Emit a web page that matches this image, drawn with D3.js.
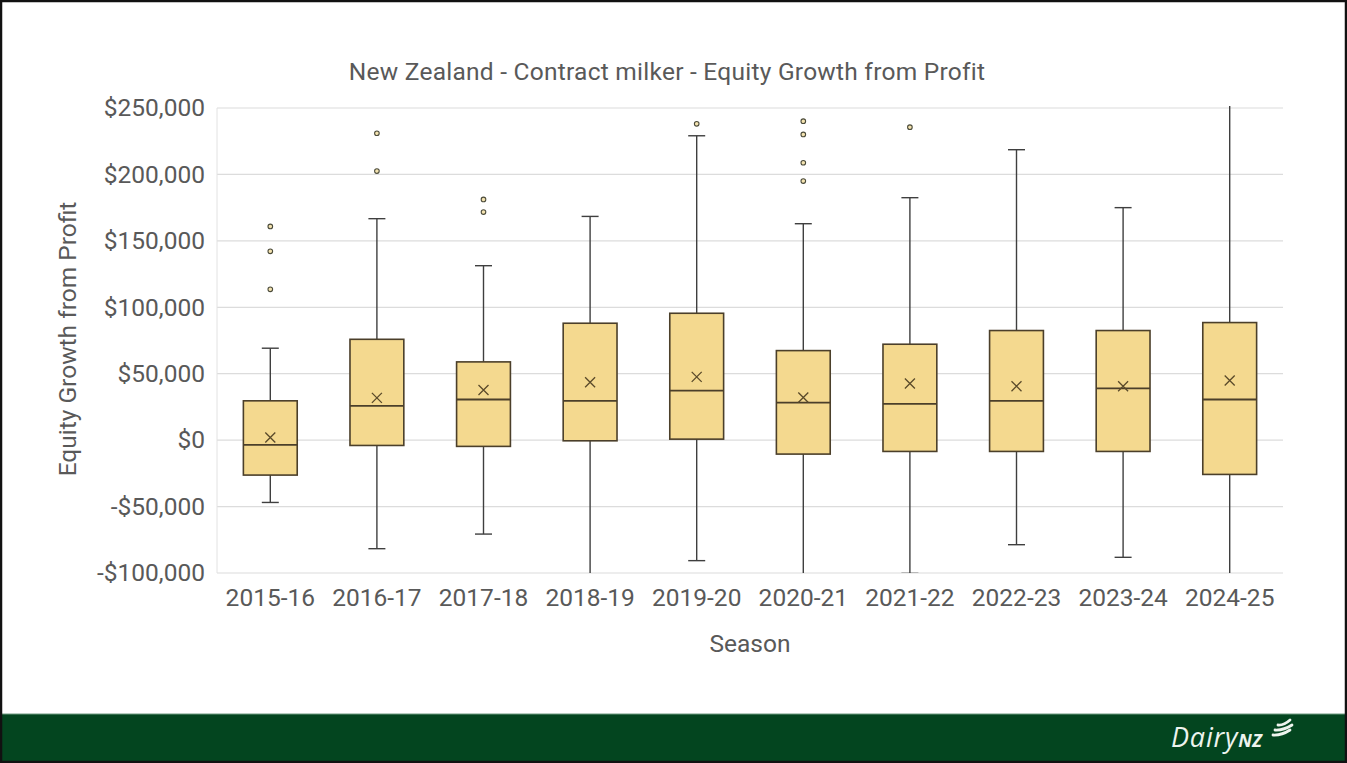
<!DOCTYPE html>
<html>
<head>
<meta charset="utf-8">
<script src="https://cdn.jsdelivr.net/npm/d3@7"></script>
<style>
  html, body { margin: 0; padding: 0; background: #fff; }
  svg { display: block; }
</style>
</head>
<body>
<svg id="chart" width="1347" height="763"></svg>
<script>
// Seasons and box-plot statistics for Equity Growth from Profit (NZ$)
const seasons = ["2015-16","2016-17","2017-18","2018-19","2019-20","2020-21","2021-22","2022-23","2023-24","2024-25"];
const whiskerLow  = [-46900, -81700, -70700, -125000, -90700, -125000, -100300, -78700, -88200, -125000];
const q1          = [-26300,  -4000,  -4700,    -500,    750,  -10500,   -8500,  -8500,  -8500,  -25800];
const median      = [ -3500,  25800,  30600,   29600,  37300,   28300,   27300,  29600,  38900,   30600];
const q3          = [ 29600,  75900,  58900,   88000,  95500,   67400,   72200,  82500,  82500,   88500];
const whiskerHigh = [ 69200, 166700, 131300,  168400, 229100,  162900,  182500, 218600, 175000,  275000];
const mean        = [  2000,  31800,  37800,   43600,  47600,   32100,   42600,  40600,  40600,   44900];
const outliers    = [
  [160900, 142100, 113500],
  [231000, 202500],
  [181200, 171700],
  [],
  [238100],
  [240100, 230100, 208800, 195000],
  [235600],
  [],
  [],
  []
];
const yTicks = [-100000, -50000, 0, 50000, 100000, 150000, 200000, 250000];

const W = 1347, H = 763;
const margin = { left: 217, right: 64, top: 108, bottom: 190 };
const plotW = W - margin.left - margin.right;
const plotH = H - margin.top - margin.bottom;

const svg = d3.select("#chart");
const font = "Roboto, 'Open Sans', sans-serif";
const textColor = "#595959";
const fs = 24.5;

svg.append("rect").attr("x", 0).attr("y", 0).attr("width", W).attr("height", H).attr("fill", "#fff");

const x = d3.scaleBand().domain(seasons).range([0, plotW]).paddingInner(0).paddingOuter(0);
const y = d3.scaleLinear().domain([-100000, 250000]).range([plotH, 0]);

const g = svg.append("g").attr("transform", `translate(${margin.left},${margin.top})`);

// horizontal gridlines
g.append("g").selectAll("line").data(yTicks).join("line")
  .attr("x1", 0).attr("x2", plotW)
  .attr("y1", d => y(d)).attr("y2", d => y(d))
  .attr("stroke", "#dcdcdc").attr("stroke-width", 1.2);

// left axis line
g.append("line").attr("x1", 0).attr("x2", 0).attr("y1", 0).attr("y2", plotH)
  .attr("stroke", "#e2e2e2").attr("stroke-width", 1);

// y axis tick labels
const fmt = v => (v < 0 ? "-$" : "$") + d3.format(",")(Math.abs(v));
const yAxis = d3.axisLeft(y).tickValues(yTicks).tickFormat(fmt).tickSize(0).tickPadding(12);
const yg = g.append("g").call(yAxis);
yg.select(".domain").remove();
yg.selectAll("text").attr("font-family", font).attr("font-size", fs).attr("fill", textColor);

// x axis tick labels
const xAxis = d3.axisBottom(x).tickSize(0).tickPadding(16);
const xg = g.append("g").attr("transform", `translate(0,${plotH})`).call(xAxis);
xg.select(".domain").remove();
xg.selectAll("text").attr("font-family", font).attr("font-size", fs).attr("fill", textColor);

// clip region for whiskers that run past the axis range
svg.append("defs").append("clipPath").attr("id", "plotClip")
  .append("rect").attr("x", 0).attr("y", -2).attr("width", plotW).attr("height", plotH + 2);

const boxes = seasons.map((s, i) => ({
  s, lo: whiskerLow[i], q1: q1[i], med: median[i], q3: q3[i], hi: whiskerHigh[i], mean: mean[i], out: outliers[i]
}));

const boxW = x.bandwidth() * 0.505;
const capHalf = 8.5;
const lineCol = "#3f3f3f";
const boxStroke = "#4b3f2a";

const bg = g.append("g").attr("clip-path", "url(#plotClip)");
const item = bg.selectAll("g.box").data(boxes).join("g").attr("class", "box")
  .attr("transform", d => `translate(${x(d.s) + x.bandwidth() / 2},0)`);

// whisker stems
item.append("line").attr("x1", 0).attr("x2", 0)
  .attr("y1", d => y(d.hi)).attr("y2", d => y(d.q3))
  .attr("stroke", lineCol).attr("stroke-width", 1.4);
item.append("line").attr("x1", 0).attr("x2", 0)
  .attr("y1", d => y(d.q1)).attr("y2", d => y(d.lo))
  .attr("stroke", lineCol).attr("stroke-width", 1.4);
// whisker caps (only where the whisker ends inside the axis range)
item.filter(d => d.hi <= 250000).append("line")
  .attr("x1", -capHalf).attr("x2", capHalf).attr("y1", d => y(d.hi)).attr("y2", d => y(d.hi))
  .attr("stroke", lineCol).attr("stroke-width", 1.4);
item.filter(d => d.lo >= -101000).append("line")
  .attr("x1", -capHalf).attr("x2", capHalf).attr("y1", d => y(d.lo)).attr("y2", d => y(d.lo))
  .attr("stroke", lineCol).attr("stroke-width", 1.4);

// boxes
item.append("rect")
  .attr("x", -boxW / 2).attr("width", boxW)
  .attr("y", d => y(d.q3)).attr("height", d => y(d.q1) - y(d.q3))
  .attr("fill", "#f4d98f").attr("stroke", boxStroke).attr("stroke-width", 1.6);
// median
item.append("line").attr("x1", -boxW / 2).attr("x2", boxW / 2)
  .attr("y1", d => y(d.med)).attr("y2", d => y(d.med))
  .attr("stroke", boxStroke).attr("stroke-width", 1.8);
// mean marker
const mk = 5;
item.append("path")
  .attr("d", d => `M${-mk},${y(d.mean) - mk}L${mk},${y(d.mean) + mk}M${-mk},${y(d.mean) + mk}L${mk},${y(d.mean) - mk}`)
  .attr("stroke", "#5a4a2a").attr("stroke-width", 1.3).attr("fill", "none");
// outliers
item.selectAll("circle").data(d => d.out).join("circle")
  .attr("cx", 0).attr("cy", v => y(v)).attr("r", 2.3)
  .attr("fill", "#f4e3b0").attr("stroke", "#4b4b3a").attr("stroke-width", 1.1);

// titles
svg.append("text").attr("x", 667).attr("y", 80).attr("text-anchor", "middle")
  .attr("font-family", font).attr("font-size", fs).attr("letter-spacing", 0.25).attr("fill", textColor)
  .text("New Zealand - Contract milker - Equity Growth from Profit");
svg.append("text").attr("x", margin.left + plotW / 2).attr("y", 652).attr("text-anchor", "middle")
  .attr("font-family", font).attr("font-size", fs).attr("fill", textColor)
  .text("Season");
svg.append("text").attr("transform", `translate(76,339) rotate(-90)`).attr("text-anchor", "middle")
  .attr("font-family", font).attr("font-size", fs).attr("fill", textColor)
  .text("Equity Growth from Profit");

// footer band with logo
svg.append("rect").attr("x", 0).attr("y", 714).attr("width", W).attr("height", H - 714).attr("fill", "#03451f");
svg.append("line").attr("x1", 0).attr("x2", W).attr("y1", 714).attr("y2", 714).attr("stroke", "#6f9a80").attr("stroke-width", 1);
const logo = svg.append("g").attr("transform", "translate(1171,747)");
logo.append("text").attr("x", 0).attr("y", 0)
  .attr("font-family", "'Open Sans', sans-serif").attr("font-style", "italic").attr("font-size", 27)
  .attr("letter-spacing", 0.8).attr("fill", "#eef4ee").text("Dairy")
  .append("tspan").attr("font-size", 18).attr("font-weight", 700).attr("letter-spacing", 0.5).text("NZ");
// stylised stripes of the logo mark
const stripes = logo.append("g").attr("fill", "none")
  .attr("stroke", "#eef4ee").attr("stroke-width", 2.8).attr("stroke-linecap", "round");
[[107, -22, 119, -27], [104, -17, 121, -22], [102, -12, 119, -17]].forEach(([x0, y0, x1, y1]) => {
  stripes.append("path").attr("d", `M${x0},${y0} Q${(x0 + x1) / 2},${y0 + 0.5} ${x1},${y1}`);
});

// outer frame
svg.append("rect").attr("x", 1).attr("y", 1).attr("width", W - 2).attr("height", H - 2)
  .attr("fill", "none").attr("stroke", "#111").attr("stroke-width", 2.5);
</script>
</body>
</html>
